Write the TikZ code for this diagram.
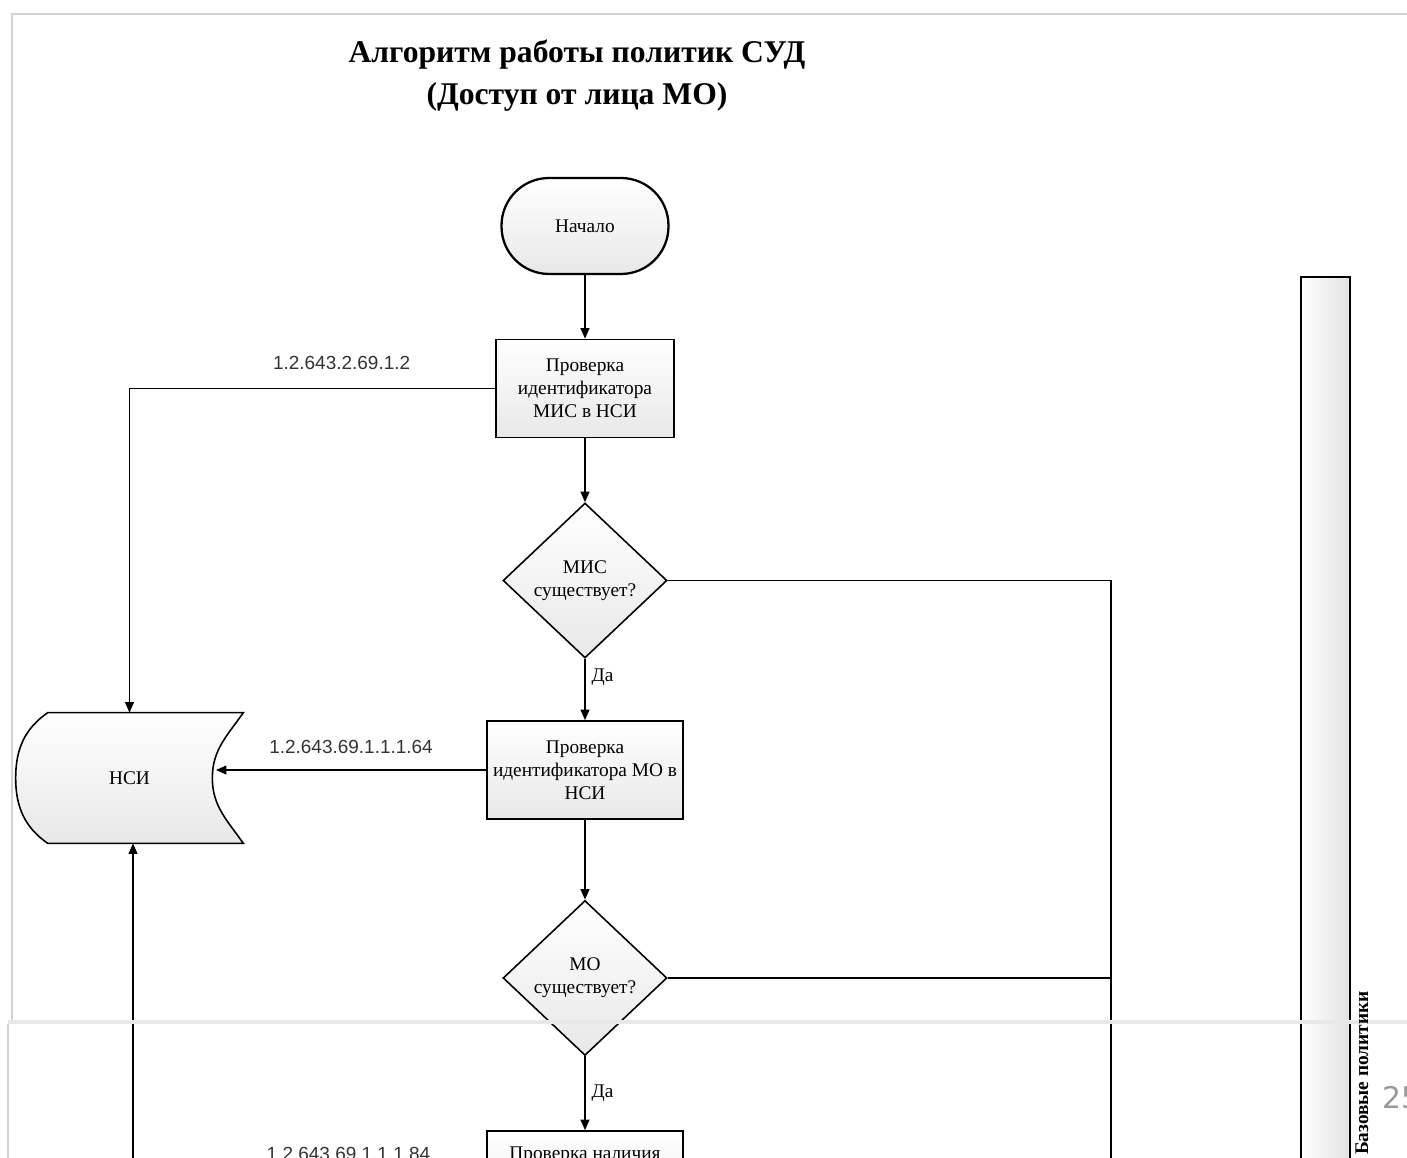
\documentclass[tikz,border=0pt]{standalone}
\usepackage{fontspec}
\setmainfont{Liberation Serif}
\newfontfamily\oidfont{Liberation Sans}
\newfontfamily\pagefont{DejaVu Sans}
\usepackage{tikz}
\usetikzlibrary{arrows.meta,shapes.geometric,positioning,backgrounds}

\tikzset{
	flowline/.style={line width=0.9pt},
	flowarrow/.style={flowline,-{Triangle[length=6pt,width=5pt]}},
	shadedbox/.style={draw,line width=0.9pt,top color=white,bottom color=gray!18,font=\fontsize{11}{13}\selectfont,align=center},
	procbox/.style={shadedbox,rectangle,inner xsep=1pt,minimum height=1.96cm},
	decision/.style={shadedbox,diamond,minimum width=3.28cm,minimum height=3.1cm,inner sep=0pt},
	terminal/.style={shadedbox,line width=1.3pt,rounded corners=0.95cm,minimum width=3.34cm,minimum height=1.92cm},
	oid/.style={font=\oidfont\fontsize{10.8}{13}\selectfont,text=black!80},
	yes/.style={font=\fontsize{11}{13}\selectfont},
	pageline/.style={draw=gray!35,line width=1.1pt}
}

\begin{document}
\begin{tikzpicture}[x=0.02cm,y=0.02cm]
	\useasboundingbox (0,0) rectangle (1407,-1158);
	\draw[pageline] (12,-1020) -- (12,-14) -- (1407,-14);
	\draw[pageline] (8,-1158) -- (8,-1024);

	\node[font=\fontsize{18}{23.8}\selectfont\bfseries,align=center] (title) at (577,-76) {Алгоритм работы политик СУД\\(Доступ от лица МО)};

	\node[terminal] (start) at (585,-226) {Начало};
	\node[procbox,minimum width=3.56cm] (mis) at (585,-388.5) {Проверка\\идентификатора\\МИС в НСИ};
	\node[decision] (misok) at (585,-580.5) {МИС\\существует?};
	\node[procbox,minimum width=3.92cm] (mo) at (585,-770) {Проверка\\идентификатора МО в\\НСИ};
	\node[decision] (mook) at (585,-978) {МО\\существует?};
	\node[procbox,minimum width=3.92cm,text depth=1.06cm] (avail) at (585,-1180) {Проверка наличия};

	\node[minimum width=4.54cm,minimum height=2.6cm,font=\fontsize{11}{13}\selectfont] (nsi) at (129.5,-778) {НСИ};
	\begin{scope}[on background layer]
		\path[draw,flowline,top color=white,bottom color=gray!18]
		([xshift=0.64cm]nsi.north west) -- (nsi.north east)
		to[out=-125,in=90] ([xshift=-0.62cm]nsi.east)
		to[out=-90,in=125] (nsi.south east)
		-- ([xshift=0.64cm]nsi.south west)
		to[out=145,in=-90] (nsi.west)
		to[out=90,in=-145] ([xshift=0.64cm]nsi.north west) -- cycle;
	\end{scope}
	\coordinate (nsi-r) at ([xshift=-0.55cm]nsi.east);
	\coordinate (merge) at (1111,-1200);

	\path[flowarrow]
	(start) edge (mis)
	(mis) edge (misok)
	(misok) edge node[yes,right,pos=0.3] {Да} (mo)
	(mo) edge (mook)
	(mook) edge node[yes,right] {Да} (avail)
	;

	\draw[flowarrow] (mis.west) -| node[oid,above=0.25cm,pos=0.21] {1.2.643.2.69.1.2} (nsi.north);
	\draw[flowarrow] (mo.west) -- node[oid,above=0.19cm] {1.2.643.69.1.1.1.64} (mo.west -| nsi-r);
	\draw[flowarrow] (avail.west) -| node[oid,above=0.25cm,pos=0.195] {1.2.643.69.1.1.1.84} ([xshift=0.07cm]nsi.south);

	\draw[flowline] (misok.east) -| (merge);
	\draw[flowline] (mook.east) -- (mook.east -| merge);

	\node[draw,line width=0.9pt,left color=white,right color=gray!22,minimum width=0.98cm,minimum height=20cm,anchor=north] (bar) at (1325.5,-276) {};

	\draw[draw=gray!18,line width=2.3pt] (8,-1022) -- (1407,-1022);
	\node[font=\fontsize{11}{13}\selectfont\bfseries,rotate=90] (bartitle) at (1362,-1073) {Базовые политики};
	\node[font=\pagefont\fontsize{17}{20}\selectfont,text=gray!80,anchor=west,inner sep=0pt] (pagenum) at (1382,-1098) {25};
\end{tikzpicture}
\end{document}
